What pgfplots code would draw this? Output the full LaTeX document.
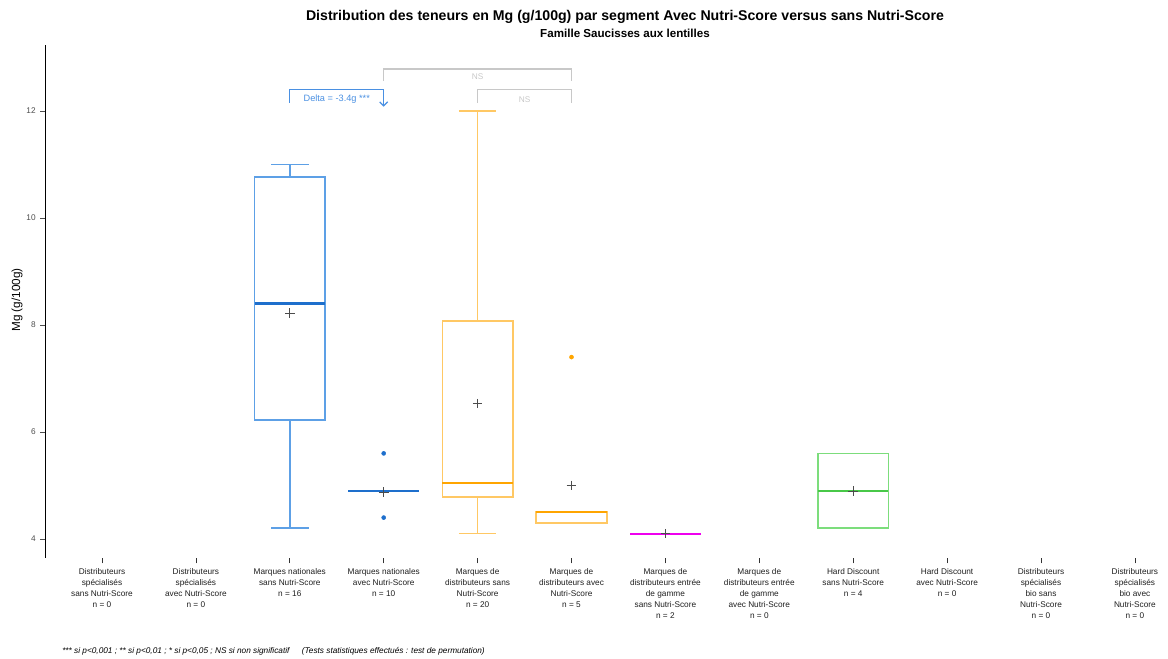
\documentclass[border=0pt]{standalone}
\usepackage{pgfplots}
\pgfplotsset{compat=1.18}
\usepgfplotslibrary{statistics}
\usetikzlibrary{arrows.meta}
\usepackage{fontspec}
\setmainfont{Liberation Sans}

\definecolor{bluebox}{HTML}{5DA0E6}
\definecolor{bluemed}{HTML}{1E6FCC}
\definecolor{orgbox}{HTML}{FFC864}
\definecolor{orgmed}{HTML}{FFA500}
\definecolor{grnbox}{HTML}{7CDD7C}
\definecolor{grnmed}{HTML}{48C848}
\definecolor{magline}{HTML}{EE00EE}
\definecolor{nsgray}{HTML}{C8C8C8}
\definecolor{deltablue}{HTML}{4A90E2}
\definecolor{ticknum}{HTML}{4D4D4D}

\pgfplotsset{
  bx/.style n args={2}{
    boxplot/every box/.style={draw=#1, line width=1.2pt},
    boxplot/every whisker/.style={draw=#1, line width=1.2pt},
    boxplot/every median/.style={draw=#2, line width=1.7pt},
    mark=*, mark size=1.5pt, mark options={draw=#2, fill=#2},
  },
}

\begin{document}
\begin{tikzpicture}
\begin{axis}[
x=70.425pt, y=40.125pt,
xmin=0.4, xmax=12.3,
ymin=3.645, ymax=13.23,
axis y line*=left,
axis x line*=bottom,
x axis line style={draw=none},
y axis line style={black, line width=0.75pt},
tick align=outside,
major tick length=4pt,
xtick={1,...,12},
xticklabels={
Distributeurs\\spécialisés\\sans Nutri-Score\\n = 0,
Distributeurs\\spécialisés\\avec Nutri-Score\\n = 0,
Marques nationales\\sans Nutri-Score\\n = 16,
Marques nationales\\avec Nutri-Score\\n = 10,
Marques de\\distributeurs sans\\Nutri-Score\\n = 20,
Marques de\\distributeurs avec\\Nutri-Score\\n = 5,
Marques de\\distributeurs entrée\\de gamme\\sans Nutri-Score\\n = 2,
Marques de\\distributeurs entrée\\de gamme\\avec Nutri-Score\\n = 0,
Hard Discount\\sans Nutri-Score\\n = 4,
Hard Discount\\avec Nutri-Score\\n = 0,
Distributeurs\\spécialisés\\bio sans\\Nutri-Score\\n = 0,
Distributeurs\\spécialisés\\bio avec\\Nutri-Score\\n = 0},
xticklabel style={align=center, font=\fontsize{6.2}{8.25}\selectfont, text=black!88},
xtick style={black!80, line width=0.6pt},
ytick={4,6,8,10,12},
yticklabel style={font=\fontsize{6.2}{7}\selectfont, text=ticknum},
ytick style={ticknum, line width=0.6pt},
/pgf/number format/assume math mode=true,
clip=false,
boxplot/draw direction=y,
boxplot/box extend=0.75,
boxplot/whisker extend=0.4,
]
% bounding frame of the picture
\coordinate (tl) at (axis cs:-0.0863,14.0748);
\coordinate (br) at (axis cs:12.3525,1.757);

% Marques nationales sans Nutri-Score
\addplot[bx={bluebox}{bluemed},
  boxplot prepared={draw position=3, median=8.4, upper quartile=10.77,
    lower quartile=6.22, upper whisker=11, lower whisker=4.2}]
  coordinates {};
% Marques nationales avec Nutri-Score
\addplot[bx={bluebox}{bluemed},
  boxplot prepared={draw position=4, median=4.9, upper quartile=4.9,
    lower quartile=4.9, upper whisker=4.9, lower whisker=4.9}]
  table[row sep=\\, y index=0] {5.6\\ 4.4\\};
% Marques de distributeurs sans Nutri-Score
\addplot[bx={orgbox}{orgmed},
  boxplot prepared={draw position=5, median=5.05, upper quartile=8.07,
    lower quartile=4.79, upper whisker=12.0, lower whisker=4.1}]
  coordinates {};
% Marques de distributeurs avec Nutri-Score
\addplot[bx={orgbox}{orgmed},
  boxplot prepared={draw position=6, median=4.5, upper quartile=4.5,
    lower quartile=4.3, upper whisker=4.5, lower whisker=4.3}]
  table[row sep=\\, y index=0] {7.4\\};
% MDD entree de gamme sans Nutri-Score
\addplot[bx={magline}{magline},
  boxplot prepared={draw position=7, median=4.1, upper quartile=4.1,
    lower quartile=4.1, upper whisker=4.1, lower whisker=4.1}]
  coordinates {};
% Hard Discount sans Nutri-Score
\addplot[bx={grnbox}{grnmed},
  boxplot prepared={draw position=9, median=4.9, upper quartile=5.6,
    lower quartile=4.2, upper whisker=5.6, lower whisker=4.2}]
  coordinates {};

% means
\addplot[only marks, mark=+, mark size=3.6pt, mark options={draw=black!70, line width=0.5pt}]
  coordinates {(3,8.22) (4,4.88) (5,6.53) (6,5.0) (7,4.1) (9,4.9)};

% significance brackets
\addplot[deltablue, line width=0.9pt, no marks, -{Straight Barb[length=3pt,width=6pt]}]
  coordinates {(3,12.155) (3,12.405) (4,12.405) (4,12.08)};
\addplot[nsgray, line width=0.9pt, no marks]
  coordinates {(4,12.56) (4,12.785) (6,12.785) (6,12.56)};
\addplot[nsgray, line width=0.9pt, no marks]
  coordinates {(5,12.155) (5,12.405) (6,12.405) (6,12.155)};
\node[text=deltablue, font=\fontsize{6.9}{7}\selectfont] at (axis cs:3.5,12.22) {Delta = -3.4g ***};
\node[text=nsgray, font=\fontsize{6.2}{7}\selectfont] at (axis cs:5,12.64) {NS};
\node[text=nsgray, font=\fontsize{6.2}{7}\selectfont] at (axis cs:5.5,12.22) {NS};

% titles and labels
\node[font=\bfseries\fontsize{10.6}{11}\selectfont] at (axis cs:6.57,13.757)
  {Distribution des teneurs en Mg (g/100g) par segment Avec Nutri-Score versus sans Nutri-Score};
\node[font=\bfseries\fontsize{8.7}{9}\selectfont] at (axis cs:6.57,13.458)
  {Famille Saucisses aux lentilles};
\node[rotate=90, font=\fontsize{8.8}{9}\selectfont] at (axis cs:0.095,8.467) {Mg (g/100g)};
\node[anchor=west, inner sep=0pt, font=\itshape\fontsize{6.2}{7}\selectfont] at (axis cs:0.574,1.907)
  {*** si p<0,001 ; ** si p<0,01 ; * si p<0,05 ; NS si non significatif\hspace{1.5em}(Tests statistiques effectués : test de permutation)};
\end{axis}
\path (tl) rectangle (br);
\end{tikzpicture}
\end{document}
